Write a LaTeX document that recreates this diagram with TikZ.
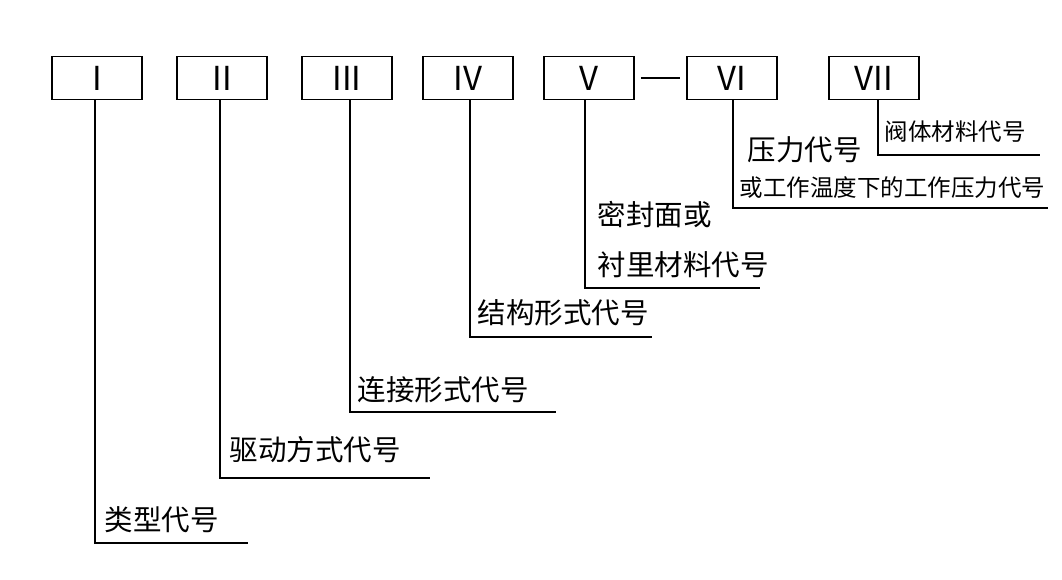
\documentclass[tikz,border=0pt]{standalone}
\usepackage{fontspec}
\setmainfont{Noto Sans CJK SC}
\begin{document}
\begin{tikzpicture}[x=1pt,y=-1pt,line width=1.8pt,
  bx/.style={draw,minimum width=90pt,minimum height=43pt,inner sep=0pt,font=\fontsize{33}{33}\selectfont},
  lb/.style={anchor=west,inner sep=0pt,font=\fontsize{28.5}{28.5}\selectfont},
  sl/.style={anchor=west,inner sep=0pt,font=\fontsize{23.5}{23.5}\selectfont}]
\useasboundingbox (0,0) rectangle (1062,579);
\node[bx] (b1) at (97,78) {I};
\node[bx] (b2) at (222,78) {II};
\node[bx] (b3) at (347,78) {III};
\node[bx] (b4) at (468,78) {IV};
\node[bx] (b5) at (589,78) {V};
\node[bx] (b6) at (732,78) {VI};
\node[bx] (b7) at (874,78) {VII};
\draw ([xshift=6pt]b5.east) -- ([xshift=-6pt]b6.west);
\coordinate (c1) at (95,543); \coordinate (e1) at (248,543);
\coordinate (c2) at (220,478); \coordinate (e2) at (430,478);
\coordinate (c3) at (350,412); \coordinate (e3) at (556,412);
\coordinate (c4) at (470,337); \coordinate (e4) at (652,337);
\coordinate (c5) at (585,288); \coordinate (e5) at (760,288);
\coordinate (c6) at (733,208); \coordinate (e6) at (1048,208);
\coordinate (c7) at (878,155); \coordinate (e7) at (1040,155);
\draw (b1.south -| c1) -- (c1) -- (e1);
\draw (b2.south -| c2) -- (c2) -- (e2);
\draw (b3.south -| c3) -- (c3) -- (e3);
\draw (b4.south -| c4) -- (c4) -- (e4);
\draw (b5.south -| c5) -- (c5) -- (e5);
\draw (b6.south -| c6) -- (c6) -- (e6);
\draw (b7.south -| c7) -- (c7) -- (e7);
\node[lb] (t1) at (104,520) {类型代号};
\node[lb] (t2) at (229,450) {驱动方式代号};
\node[lb] (t3) at (357,390) {连接形式代号};
\node[lb] (t4) at (477,313) {结构形式代号};
\node[lb] (t5a) at (597,215) {密封面或};
\node[lb] (t5b) at (597,265) {衬里材料代号};
\node[lb] (t6a) at (747,150) {压力代号};
\node[sl] (t6b) at (739,188) {或工作温度下的工作压力代号};
\node[sl] (t7) at (884,132) {阀体材料代号};
\end{tikzpicture}
\end{document}
